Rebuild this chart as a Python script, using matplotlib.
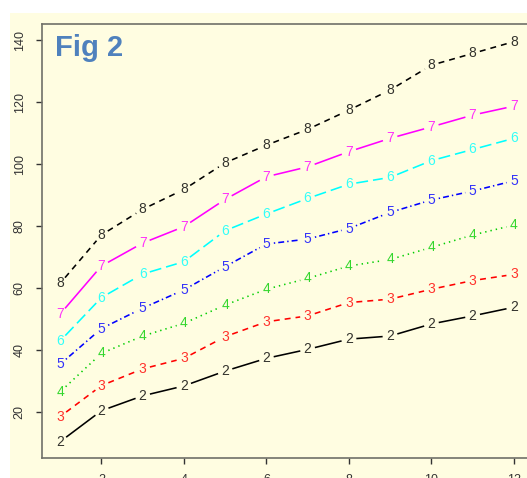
import matplotlib.pyplot as plt
from matplotlib.patches import Rectangle
import numpy as np

x = list(range(1, 13))
labels = ['2', '3', '4', '5', '6', '7', '8']
s2 = [10.4, 20.4, 25.2, 28.4, 33.2, 37.3, 40.2, 43.5, 44.5, 48.4, 51.0, 53.8]
s3 = [18.5, 28.5, 33.9, 37.3, 44.3, 49.1, 51.0, 55.3, 56.4, 59.6, 62.4, 64.4]
s4 = [26.5, 38.9, 44.5, 48.6, 54.5, 59.6, 63.1, 67.1, 69.2, 73.1, 77.1, 80.3]
s5 = [35.4, 46.9, 53.5, 59.4, 66.9, 74.2, 75.8, 79.2, 84.4, 88.4, 91.3, 94.6]
s6 = [42.9, 56.9, 64.5, 68.5, 78.5, 83.9, 88.9, 93.5, 95.7, 101.1, 104.7, 108.3]
s7 = [51.6, 67.1, 74.5, 79.8, 88.6, 95.9, 99.1, 104.0, 108.3, 112.0, 115.8, 118.7]
s8 = [61.5, 77.1, 85.4, 91.8, 100.4, 106.1, 111.2, 117.4, 123.9, 131.9, 135.7, 139.5]
series = [s2, s3, s4, s5, s6, s7, s8]

colors = ['black', '#FF0000', '#00CD00', '#0000FF', '#00FFFF', '#FF00FF', 'black']
dashes = [None, (4.3, 3.6), (1.0, 2.9), (1.0, 2.2, 4.3, 2.2), (8.6, 3.6), None, (4.3, 3.6)]

bg = '#FFFDE1'
plt.rcParams['font.family'] = ['Liberation Sans', 'DejaVu Sans']
plt.rcParams['lines.scale_dashes'] = False

fig = plt.figure(figsize=(5.27, 4.78), dpi=100)
fig.patch.set_facecolor('white')
fig.patches.append(Rectangle((10 / 527, 0), 1, (478 - 13) / 478, transform=fig.transFigure,
                             facecolor=bg, edgecolor='none', zorder=-10))

ax = fig.add_axes([42 / 527, (478 - 457.5) / 478, 490 / 527, 433.5 / 478])
ax.set_facecolor(bg)
ax.set_xlim(0.56, 12.44)
ax.set_ylim(5.3, 145.2)

# type="b": segments with a gap around each point label
gap = 7.5
for vals, lab, col, d in zip(series, labels, colors, dashes):
    pts = ax.transData.transform(np.column_stack([x, vals]))
    for i in range(len(pts) - 1):
        p, q = pts[i], pts[i + 1]
        v = q - p
        L = np.hypot(*v)
        if L <= 2 * gap:
            continue
        u = v / L
        a = ax.transData.inverted().transform([p + u * gap, q - u * gap])
        ln, = ax.plot(a[:, 0], a[:, 1], color=col, lw=1.15, solid_capstyle='butt',
                      dash_capstyle='butt')
        if d is not None:
            ln.set_dashes(d)
    for xi, yi in zip(x, vals):
        ax.text(xi, yi, lab, color=col, fontsize=10, ha='center', va='center', alpha=0.8)

ax.set_xticks([2, 4, 6, 8, 10, 12])
ax.set_yticks([20, 40, 60, 80, 100, 120, 140])
ax.tick_params(direction='out', length=4.5, width=1, color='#333333', labelcolor='#333333',
               labelsize=9, pad=7.2)
for t in ax.get_yticklabels():
    t.set_rotation(90)
    t.set_va('center')
for s in ax.spines.values():
    s.set_color('#707068')
    s.set_linewidth(1.2)

fig.text(55 / 527, (478 - 55.5) / 478, 'Fig 2', color='#4F81BD', fontsize=21,
         fontweight='bold', ha='left', va='baseline')

fig.savefig('out.png', dpi=100, facecolor=fig.get_facecolor())
